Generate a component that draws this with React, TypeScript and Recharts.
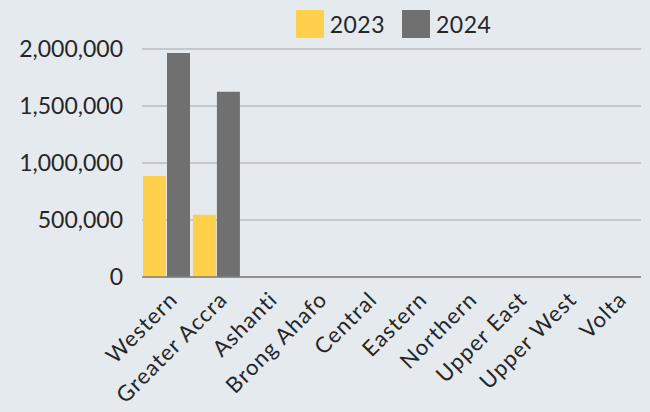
import React from 'react';
import { BarChart, Bar, XAxis, YAxis, CartesianGrid, Legend } from 'recharts';

const regions = ['Western', 'Greater Accra', 'Ashanti', 'Brong Ahafo', 'Central', 'Eastern', 'Northern', 'Upper East', 'Upper West', 'Volta'];
const values2023 = [885000, 545000, 0, 0, 0, 0, 0, 0, 0, 0];
const values2024 = [1965000, 1625000, 0, 0, 0, 0, 0, 0, 0, 0];
const yTicks = [0, 500000, 1000000, 1500000, 2000000];

const data = regions.map((region, i) => ({
  region,
  y2023: values2023[i],
  y2024: values2024[i],
}));

const FONT = 'Lato, "Open Sans", sans-serif';
const YELLOW = '#ffd04c';
const GREY = '#707070';

const RotatedTick = ({ x, y, payload }: any) => (
  <g transform={`translate(${x + 12},${y + 16})`}>
    <text
      textAnchor="end"
      transform="rotate(-45)"
      fontSize={22}
      letterSpacing={1.1}
      fontFamily={FONT}
      fill="#262626"
    >
      {payload.value}
    </text>
  </g>
);

const LegendContent = ({ payload }: any) => (
  <div style={{ height: 40, display: 'flex', justifyContent: 'center', alignItems: 'center', gap: 17, fontFamily: FONT, fontSize: 23, letterSpacing: 0.5, color: '#262626', paddingLeft: 146 }}>
    {payload.map((entry: any) => (
      <div key={entry.value} style={{ display: 'flex', alignItems: 'center', gap: 6 }}>
        <span style={{ width: 28, height: 28, background: entry.color, display: 'inline-block' }} />
        <span>{entry.value}</span>
      </div>
    ))}
  </div>
);

export default function App() {
  return (
    <div style={{ position: 'fixed', top: 0, left: 0, width: 650, height: 412, background: '#e5eaef' }}>
      <BarChart
        width={650}
        height={412}
        data={data}
        margin={{ top: 9, right: 9, left: 0, bottom: 0 }}
        barGap={1}
        barCategoryGap={2}
      >
        <CartesianGrid vertical={false} stroke="#a6a6a6" />
        <XAxis
          dataKey="region"
          interval={0}
          height={135}
          tickLine={false}
          axisLine={{ stroke: '#7f7f7f', strokeWidth: 1.5 }}
          tick={<RotatedTick />}
        />
        <YAxis
          width={142}
          ticks={yTicks}
          domain={[0, 2000000]}
          axisLine={false}
          tickLine={false}
          tickSize={0}
          tickMargin={19}
          tick={{ fontSize: 23, fontFamily: FONT, fill: '#262626' }}
          tickFormatter={(v: number) => v.toLocaleString('en-US')}
        />
        <Legend verticalAlign="top" wrapperStyle={{ top: 4 }} content={<LegendContent />} />
        <Bar dataKey="y2023" name="2023" fill={YELLOW} barSize={23} isAnimationActive={false} />
        <Bar dataKey="y2024" name="2024" fill={GREY} barSize={23} isAnimationActive={false} />
      </BarChart>
    </div>
  );
}
